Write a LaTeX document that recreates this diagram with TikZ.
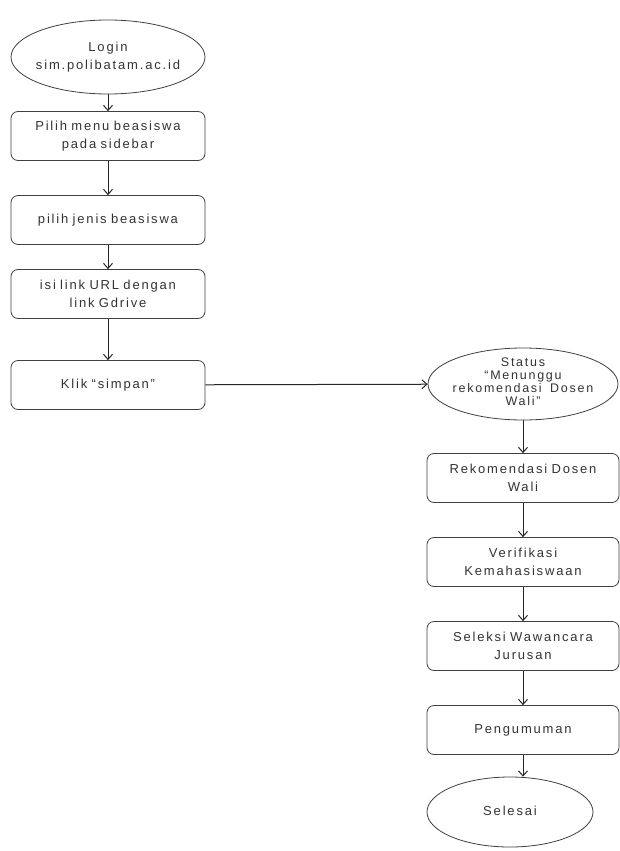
\documentclass[tikz,border=0pt]{standalone}
\usepackage{fontspec}
\setmainfont{Liberation Sans}[LetterSpace=14,WordSpace=1.6]
\usetikzlibrary{shapes.geometric,arrows.meta}
\newcommand{\elltext}[1]{\raisebox{-0.35ex}[0pt][0pt]{\makebox[0pt]{\begin{tabular}{@{}c@{}}#1\end{tabular}}}}
\begin{document}
\begin{tikzpicture}[x=1pt,y=-1pt,
  every node/.style={font=\fontsize{13}{18}\selectfont, text=black!80, align=center},
  proc/.style={draw=black!75, line width=0.8pt, rounded corners=7pt, minimum width=194pt, minimum height=49pt, text width=190pt, inner sep=1pt},
  term/.style={draw=black!75, line width=0.8pt, ellipse, minimum width=194pt, minimum height=74pt, inner sep=0pt},
  flow/.style={draw=black!85, line width=1pt, -{Straight Barb[length=5pt,width=9pt]}}]
\useasboundingbox[fill=white] (0,0) rectangle (619,851);
\node[term] (login) at (108,57) {\elltext{Login\\sim.polibatam.ac.id}};
\node[proc] (menu) at (108,136) {Pilih menu beasiswa\\pada sidebar};
\node[proc] (jenis) at (108,220) {pilih jenis beasiswa};
\node[proc] (link) at (108,294) {isi link URL dengan\\link Gdrive};
\node[proc] (simpan) at (108,385) {Klik ``simpan''};
\node[term, minimum width=190pt, minimum height=72pt, font=\fontsize{12.5}{13}\selectfont] (status) at (523,384) {\elltext{Status\\``Menunggu\\rekomendasi Dosen\\Wali''}};
\node[proc, minimum width=191pt] (rekom) at (523,478) {Rekomendasi Dosen\\Wali};
\node[proc, minimum width=191pt] (verif) at (523,562) {Verifikasi\\Kemahasiswaan};
\node[proc, minimum width=191pt] (seleksi) at (523,646) {Seleksi Wawancara\\Jurusan};
\node[proc, minimum width=191pt] (umum) at (523,730) {Pengumuman};
\node[term, minimum width=166pt, minimum height=70pt] (selesai) at (510,812) {\elltext{Selesai}};
\draw[flow] (login) -- (menu);
\draw[flow] (menu) -- (jenis);
\draw[flow] (jenis) -- (link);
\draw[flow] (link) -- (simpan);
\draw[flow] (simpan) -- (status);
\draw[flow] (status) -- (rekom);
\draw[flow] (rekom) -- (verif);
\draw[flow] (verif) -- (seleksi);
\draw[flow] (seleksi) -- (umum);
\draw[flow] (umum.south) -- (umum.south |- selesai.north);
\end{tikzpicture}
\end{document}
